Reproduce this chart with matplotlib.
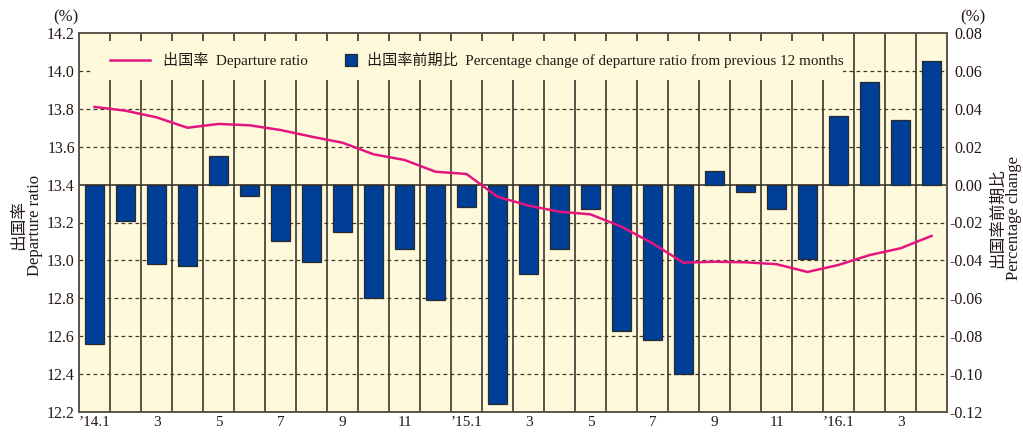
import matplotlib
matplotlib.use("Agg")
import matplotlib.pyplot as plt
from matplotlib.patches import Rectangle
from matplotlib.ticker import FixedLocator, FixedFormatter

plt.rcParams['font.family'] = ['Liberation Serif', 'Noto Sans CJK JP']
plt.rcParams['axes.unicode_minus'] = False

months = ["’14.1", "2", "3", "4", "5", "6", "7", "8", "9", "10", "11", "12",
          "’15.1", "2", "3", "4", "5", "6", "7", "8", "9", "10", "11", "12",
          "’16.1", "2", "3", "4"]
departure_ratio = [13.81, 13.79, 13.755, 13.70, 13.72, 13.713, 13.688, 13.653,
                   13.621, 13.56, 13.53, 13.468, 13.456, 13.336, 13.289, 13.257,
                   13.243, 13.178, 13.09, 12.988, 12.993, 12.99, 12.98, 12.939,
                   12.976, 13.028, 13.064, 13.129]
pct_change = [-0.084, -0.019, -0.042, -0.043, 0.015, -0.006, -0.030, -0.041,
              -0.025, -0.060, -0.034, -0.061, -0.012, -0.116, -0.047, -0.034,
              -0.013, -0.077, -0.082, -0.100, 0.007, -0.004, -0.013, -0.039,
              0.036, 0.054, 0.034, 0.065]
left_ticks = [12.2, 12.4, 12.6, 12.8, 13.0, 13.2, 13.4, 13.6, 13.8, 14.0, 14.2]
right_ticks = [-0.12, -0.10, -0.08, -0.06, -0.04, -0.02, 0.00, 0.02, 0.04, 0.06, 0.08]
tick_label_months = [m if i % 2 == 0 else "" for i, m in enumerate(months)]

BG = '#FFF9DB'
BAR = '#003F98'
LINE = '#E4157F'
DARK = '#3d372c'
TXT = '#231815'

fig = plt.figure(figsize=(10.23, 4.34), dpi=100)
ax = fig.add_axes([79/1023, 22/434, 868/1023, 379/434])
ax2 = ax.twinx()

n = len(months)
x = list(range(n))

ax2.patch.set_visible(True)
ax2.patch.set_facecolor(BG)
ax.set_zorder(ax2.get_zorder() + 1)
ax.patch.set_visible(False)

ax2.set_ylim(right_ticks[0], right_ticks[-1])
ax.set_ylim(left_ticks[0], left_ticks[-1])
ax.set_xlim(-0.5, n - 0.5)

for t in right_ticks[1:-1]:
    if abs(t) < 1e-9:
        ax2.axhline(t, color=DARK, lw=1.2, zorder=1)
    else:
        ax2.axhline(t, color=DARK, lw=0.9, ls=(0, (3.0, 2.6)), zorder=1)
for i in range(n - 1):
    ax2.axvline(i + 0.5, color=DARK, lw=1.2, zorder=1)

ax2.bar(x, pct_change, width=0.6, color=BAR, edgecolor='#2a2a2a', linewidth=0.9, zorder=2)

ax.plot(x, departure_ratio, color=LINE, lw=1.8, zorder=3, solid_joinstyle='round')

# legend box (covers grid)
ax.add_patch(Rectangle((0.016, 0.876), 0.864, 0.103, transform=ax.transAxes,
                       facecolor=BG, edgecolor='none', zorder=4))
ly = 0.929
ax.plot([0.0357, 0.0818], [ly, ly], transform=ax.transAxes, color=LINE, lw=1.8, zorder=5)
ax.text(0.0968, ly, "出国率  Departure ratio", transform=ax.transAxes, ha='left', va='center',
        fontsize=10.9, color=TXT, zorder=5)
ax.add_patch(Rectangle((0.3065, ly - 0.0158), 0.0138, 0.0317, transform=ax.transAxes,
                       facecolor=BAR, edgecolor='#2a2a2a', lw=0.9, zorder=5))
ax.text(0.3318, ly, "出国率前期比  Percentage change of departure ratio from previous 12 months",
        transform=ax.transAxes, ha='left', va='center', fontsize=10.9, color=TXT, zorder=5)

# ticks
ax.yaxis.set_major_locator(FixedLocator(left_ticks))
ax.yaxis.set_major_formatter(FixedFormatter([f"{v:.1f}" for v in left_ticks]))
ax2.yaxis.set_major_locator(FixedLocator(right_ticks))
ax2.yaxis.set_major_formatter(FixedFormatter([f"{v:.2f}" for v in right_ticks]))
ax.xaxis.set_major_locator(FixedLocator(x))
ax.xaxis.set_major_formatter(FixedFormatter(tick_label_months))

ax.tick_params(axis='y', length=0, pad=3, labelsize=11.5, labelcolor=TXT)
ax.tick_params(axis='x', length=0, pad=3, labelsize=11, labelcolor=TXT)
ax2.tick_params(axis='y', length=0, pad=25.5, labelsize=11.5, labelcolor=TXT)
for lab in ax2.get_yticklabels():
    lab.set_horizontalalignment('right')

for a in (ax, ax2):
    for s in a.spines.values():
        s.set_color('#5a5548')
        s.set_linewidth(1.2)

fig.text(27/1023, 1 - 225/434, "出国率\nDeparture ratio", rotation=90, ha='center', va='center',
         fontsize=12, color=TXT, linespacing=1.0, multialignment='center')
fig.text(1006/1023, 1 - 218/434, "出国率前期比\nPercentage change", rotation=90, ha='center',
         va='center', fontsize=12, color=TXT, linespacing=1.0, multialignment='center')
fig.text(66/1023, 1 - 17/434, "(%)", ha='center', va='center', fontsize=12, color=TXT)
fig.text(973/1023, 1 - 17/434, "(%)", ha='center', va='center', fontsize=12, color=TXT)

fig.savefig("out.png", dpi=100)
